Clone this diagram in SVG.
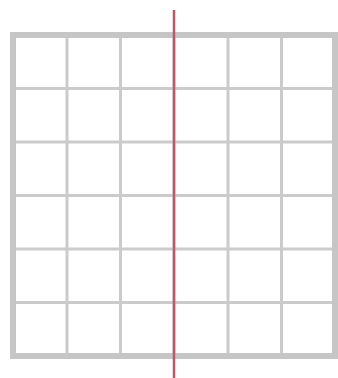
<svg xmlns="http://www.w3.org/2000/svg" width="338" height="378" viewBox="0 0 338 378">
<style>
.inner{stroke:#cbcbcb;stroke-width:3;fill:none}
.outer{stroke:#c6c6c6;stroke-width:6;fill:none}
.axis{stroke:#b85a6a;stroke-width:2.5}
</style>
<rect width="338" height="378" fill="#ffffff"/>
<g id="grid">
<path class="inner" d="M67 35V356M120.5 35V356M174 35V356M228 35V356M281.5 35V356M13 88.5H335M13 142H335M13 195.5H335M13 249H335M13 302.5H335"/>
<rect class="outer" x="13" y="35" width="322" height="321"/>
</g>
<g id="connectors">
<line class="axis" x1="174" y1="10" x2="174" y2="378"/>
</g>
</svg>
